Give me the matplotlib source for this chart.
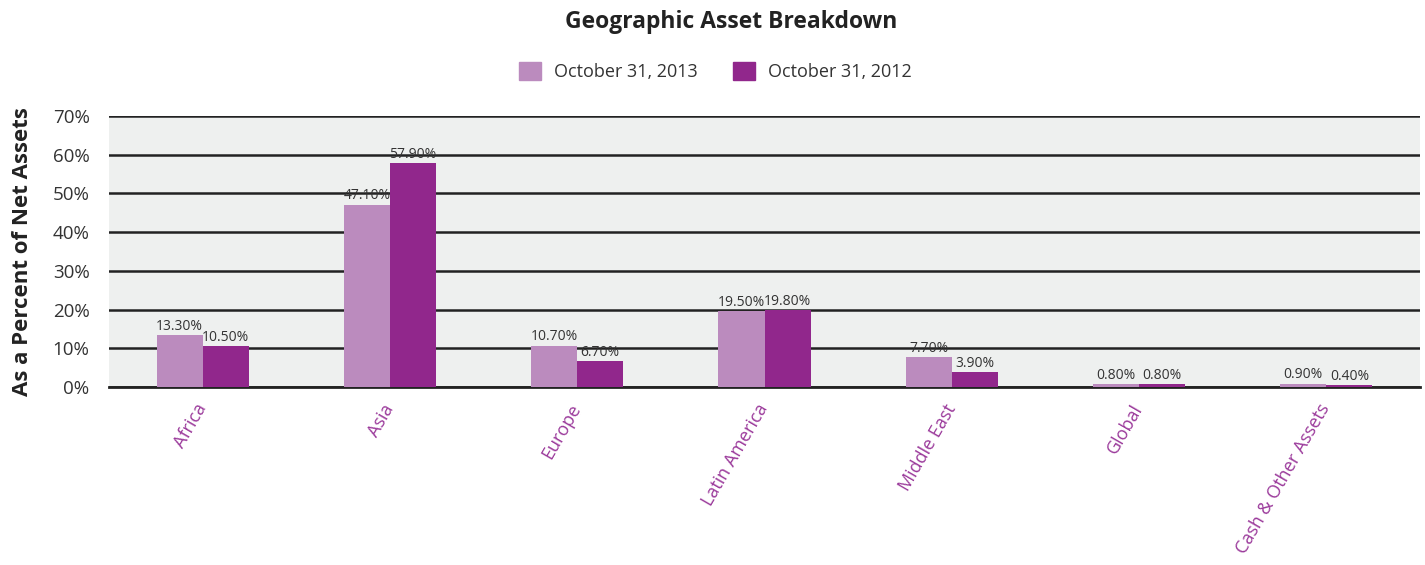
import numpy as np
import matplotlib
matplotlib.use("Agg")
import matplotlib.pyplot as plt
import matplotlib.transforms as mtransforms
from matplotlib.patches import Patch

plt.rcParams["font.family"] = ["Open Sans", "DejaVu Sans"]

categories = ["Africa", "Asia", "Europe", "Latin America", "Middle East", "Global",
              "Cash & Other Assets"]
vals_2013 = [13.30, 47.10, 10.70, 19.50, 7.70, 0.80, 0.90]
vals_2012 = [10.50, 57.90, 6.70, 19.80, 3.90, 0.80, 0.40]
series_labels = ["October 31, 2013", "October 31, 2012"]
yticks = [0, 10, 20, 30, 40, 50, 60, 70]

C13 = "#bb8bbe"
C12 = "#91278c"
TXT = "#333333"

fig = plt.figure(figsize=(14.25, 5.65), dpi=100)
ax = fig.add_axes([0.0765, 0.315, 0.92, 0.48])
ax.set_facecolor("#eef0ef")

x = np.arange(len(categories))
w = 0.246
b1 = ax.bar(x - w / 2, vals_2013, w, color=C13, zorder=3)
b2 = ax.bar(x + w / 2, vals_2012, w, color=C12, zorder=3)

for bars, vals in [(b1, vals_2013), (b2, vals_2012)]:
    for bar, v in zip(bars, vals):
        ax.text(bar.get_x() + bar.get_width() / 2, v + 0.3, f"{v:.2f}%",
                ha="center", va="bottom", fontsize=10, color=TXT, zorder=4)

ax.set_xlim(-0.5, len(categories) - 0.5)
ax.set_ylim(0, 70)
ax.set_yticks(yticks)
ax.set_yticklabels([f"{t}%" for t in yticks], fontsize=13.5, color=TXT)
ax.yaxis.grid(True, color="#222222", lw=1.8, zorder=1)
ax.set_axisbelow(True)
ax.tick_params(axis="y", length=0, pad=14)
ax.tick_params(axis="x", length=0, pad=10)
for s in ["top", "right", "left"]:
    ax.spines[s].set_visible(False)
ax.spines["bottom"].set_color("#222222")
ax.spines["bottom"].set_linewidth(2)

ax.set_xticks(x)
ax.set_xticklabels(categories, rotation=60, ha="right", rotation_mode="anchor",
                   fontsize=13, color="#9b3a9b")
shift = mtransforms.ScaledTranslation(-8 / 100, 0, fig.dpi_scale_trans)
for lbl in ax.get_xticklabels():
    lbl.set_transform(lbl.get_transform() + shift)

ax.set_ylabel("As a Percent of Net Assets", fontsize=16, fontweight="bold",
              color="#222222", labelpad=14)

handles = [Patch(color=C13, label=series_labels[0]),
           Patch(color=C12, label=series_labels[1])]
fig.legend(handles=handles, loc="center", bbox_to_anchor=(0.502, 0.874), ncol=2,
           frameon=False, fontsize=13, handlelength=1.2, handleheight=1.2,
           columnspacing=2.0, handletextpad=0.7, labelcolor=TXT)

fig.suptitle("Geographic Asset Breakdown", fontsize=16.5, fontweight="bold",
             color="#222222", x=0.513, y=0.982)

fig.savefig("out.png", dpi=100)
